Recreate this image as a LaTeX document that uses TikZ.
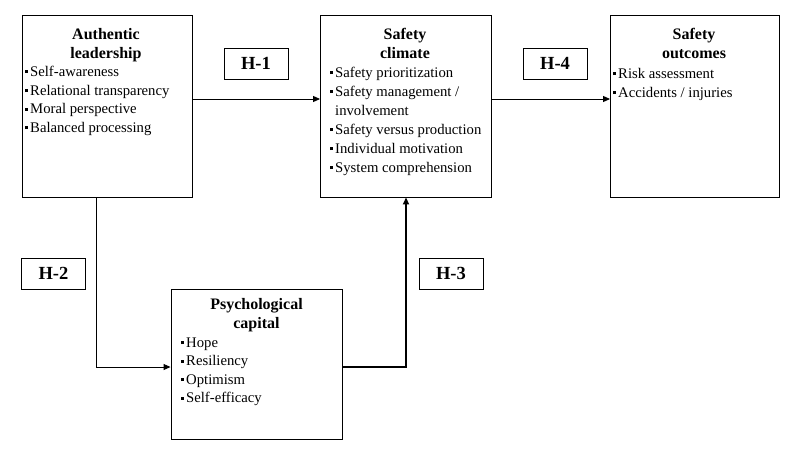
\documentclass[tikz,border=0pt]{standalone}
\usepackage{fontspec}
\setmainfont{Liberation Serif}
\usetikzlibrary{arrows.meta}
\newcommand{\bul}{\rule[3pt]{3pt}{3pt}\hspace{2pt}}
\begin{document}
\begin{tikzpicture}[x=1pt,y=-1pt,
  box/.style={draw, line width=0.9pt, inner sep=0pt},
  hbox/.style={draw, line width=0.9pt, inner sep=0pt, minimum width=64pt, minimum height=31pt, font=\fontsize{18.5}{18.5}\selectfont\bfseries},
  ttl/.style={anchor=base, inner sep=0pt, font=\fontsize{16}{16}\selectfont\bfseries},
  itm/.style={anchor=base west, inner sep=0pt, font=\fontsize{14.7}{14.7}\selectfont},
  conn/.style={line width=0.9pt, -{Triangle[length=7pt,width=6pt]}}]
\useasboundingbox (0,0) rectangle (797,455);
% boxes
\node[box, minimum width=170pt, minimum height=182pt] (al) at (107,106) {};
\node[box, minimum width=171pt, minimum height=182pt] (sc) at (406,106) {};
\node[box, minimum width=169pt, minimum height=182pt] (so) at (695,106) {};
\node[box, minimum width=171pt, minimum height=150pt] (pc) at (256.5,364) {};
% hypothesis labels
\node[hbox] (h1) at (256,63.5) {H-1};
\node[hbox] (h4) at (555,63.5) {H-4};
\node[hbox] (h2) at (53.5,273.5) {H-2};
\node[hbox] (h3) at (451,273.5) {H-3};
% Authentic leadership
\node[ttl] (alt1) at (106,39) {Authentic};
\node[ttl] (alt2) at (106,58) {leadership};
\node[itm] (ali1) at (25,76) {\bul Self-awareness};
\node[itm] (ali2) at (25,95) {\bul Relational transparency};
\node[itm] (ali3) at (25,113.5) {\bul Moral perspective};
\node[itm] (ali4) at (25,132) {\bul Balanced processing};
% Safety climate
\node[ttl] (sct1) at (405,39) {Safety};
\node[ttl] (sct2) at (405,58.5) {climate};
\node[itm] (sci1) at (330,77) {\bul Safety prioritization};
\node[itm] (sci2) at (330,96) {\bul Safety management /};
\node[itm] (sci2b) at (335,115) {involvement};
\node[itm] (sci3) at (330,134) {\bul Safety versus production};
\node[itm] (sci4) at (330,153) {\bul Individual motivation};
\node[itm] (sci5) at (330,172) {\bul System comprehension};
% Safety outcomes
\node[ttl] (sot1) at (694,39) {Safety};
\node[ttl] (sot2) at (694,58.5) {outcomes};
\node[itm] (soi1) at (613,78) {\bul Risk assessment};
\node[itm] (soi2) at (613,97) {\bul Accidents / injuries};
% Psychological capital
\node[ttl] (pct1) at (256.5,309) {Psychological};
\node[ttl] (pct2) at (256.5,328) {capital};
\node[itm] (pci1) at (181,347) {\bul Hope};
\node[itm] (pci2) at (181,365.5) {\bul Resiliency};
\node[itm] (pci3) at (181,384) {\bul Optimism};
\node[itm] (pci4) at (181,402.5) {\bul Self-efficacy};
% connectors
\coordinate (y1) at (0,99);
\coordinate (h2turn) at (96.7,367);
\coordinate (h3turn) at (406,367);
\draw[conn] (al.east |- y1) -- (sc.west |- y1);
\draw[conn] (sc.east |- y1) -- (so.west |- y1);
\draw[conn] (al.south -| h2turn) |- (pc.west |- h2turn);
\draw[conn, line width=1.8pt] (pc.east |- h3turn) -| (sc.south -| h3turn);
\end{tikzpicture}
\end{document}
